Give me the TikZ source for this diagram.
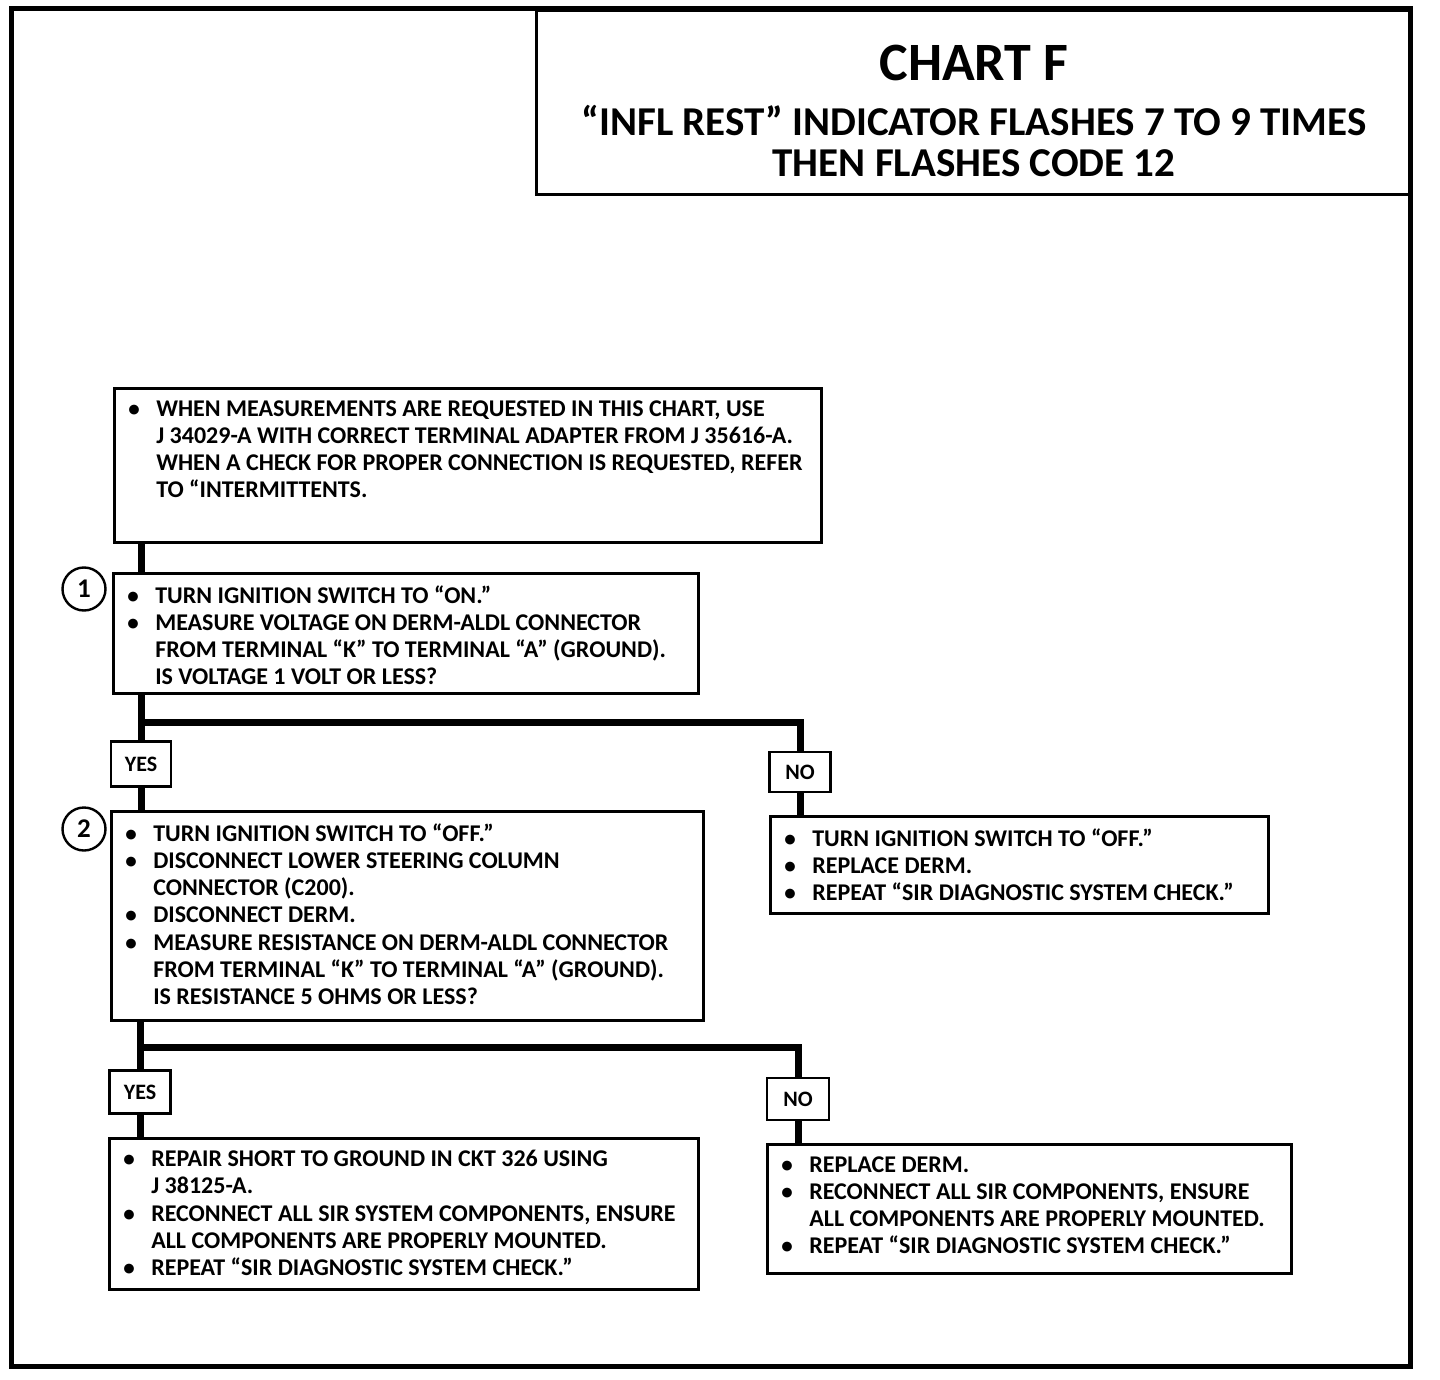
\documentclass[tikz,border=0pt]{standalone}
\usepackage{fontspec}
\setmainfont{Carlito}
\usetikzlibrary{positioning}

\newcommand{\itm}[1]{\mbox{\makebox[28pt][l]{\fontsize{23}{23}\selectfont\textbullet}#1}}
\newcommand{\cnt}[1]{\mbox{\hspace*{28pt}#1}}
\newcommand{\chk}[3]{\parbox[t][#2][t]{#1}{\raggedright\fontsize{24}{27.3}\selectfont #3}}

\begin{document}
\begin{tikzpicture}[x=1pt,y=-1pt,font=\bfseries,
  chkbox/.style={draw,line width=2.6pt,anchor=north west,inner xsep=14pt,inner ysep=12pt,align=left},
  ansbox/.style={draw,line width=2.6pt,inner sep=0pt,font=\bfseries\fontsize{22}{22}\selectfont},
  stepno/.style={draw,circle,line width=2.4pt,minimum size=43pt,inner sep=0pt,font=\bfseries\fontsize{27}{27}\selectfont},
  conn/.style={line width=7pt}]
\useasboundingbox (0,0) rectangle (1440,1380);
% frame and heading
\draw[line width=5pt] (11,9) rectangle (1410,1366);
\node[draw,line width=3pt,anchor=north west,minimum width=875pt,minimum height=184pt,align=center,
  font=\bfseries\fontsize{41}{41}\selectfont] (title) at (535,9)
  {\rule{0pt}{52pt}{\fontsize{54}{54}\selectfont CHART F}\\[14pt]
   “INFL REST” INDICATOR FLASHES 7 TO 9 TIMES\\
   THEN FLASHES CODE 12};
% boxes
\node[chkbox] (intro) at (113,387) {\chk{679pt}{130pt}{%
  \itm{WHEN MEASUREMENTS ARE REQUESTED IN THIS CHART, USE}\\
  \cnt{J 34029-A WITH CORRECT TERMINAL ADAPTER FROM J 35616-A.}\\
  \cnt{WHEN A CHECK FOR PROPER CONNECTION IS REQUESTED, REFER}\\
  \cnt{TO “INTERMITTENTS.}}};
\node[chkbox] (step1) at (112,572) {\chk{557pt}{96pt}{%
  \itm{TURN IGNITION SWITCH TO “ON.”}\\
  \itm{MEASURE VOLTAGE ON DERM-ALDL CONNECTOR}\\
  \cnt{FROM TERMINAL “K” TO TERMINAL “A” (GROUND).}\\
  \cnt{IS VOLTAGE 1 VOLT OR LESS?}}};
\node[chkbox] (step2) at (110,810) {\chk{564pt}{185pt}{%
  \itm{TURN IGNITION SWITCH TO “OFF.”}\\
  \itm{DISCONNECT LOWER STEERING COLUMN}\\
  \cnt{CONNECTOR (C200).}\\
  \itm{DISCONNECT DERM.}\\
  \itm{MEASURE RESISTANCE ON DERM-ALDL CONNECTOR}\\
  \cnt{FROM TERMINAL “K” TO TERMINAL “A” (GROUND).}\\
  \cnt{IS RESISTANCE 5 OHMS OR LESS?}}};
\node[chkbox] (nodrm) at (769,815) {\chk{470pt}{73pt}{%
  \itm{TURN IGNITION SWITCH TO “OFF.”}\\
  \itm{REPLACE DERM.}\\
  \itm{REPEAT “SIR DIAGNOSTIC SYSTEM CHECK.”}}};
\node[chkbox] (repair) at (108,1137) {\chk{561pt}{127pt}{%
  \itm{REPAIR SHORT TO GROUND IN CKT 326 USING}\\
  \cnt{J 38125-A.}\\
  \itm{RECONNECT ALL SIR SYSTEM COMPONENTS, ENSURE}\\
  \cnt{ALL COMPONENTS ARE PROPERLY MOUNTED.}\\
  \itm{REPEAT “SIR DIAGNOSTIC SYSTEM CHECK.”}}};
\node[chkbox] (replace) at (766,1143) {\chk{496pt}{105pt}{%
  \itm{REPLACE DERM.}\\
  \itm{RECONNECT ALL SIR COMPONENTS, ENSURE}\\
  \cnt{ALL COMPONENTS ARE PROPERLY MOUNTED.}\\
  \itm{REPEAT “SIR DIAGNOSTIC SYSTEM CHECK.”}}};
% step numbers
\node[stepno] (c1) at (84,589) {1};
\node[stepno] (c2) at (84,829) {2};
% answers
\node[ansbox,minimum width=60pt,minimum height=45pt] (yes1) at (141,764) {YES};
\node[ansbox,minimum width=61pt,minimum height=40pt] (no1) at (800,772) {NO};
\node[ansbox,minimum width=61pt,minimum height=43pt] (yes2) at (140,1092) {YES};
\node[ansbox,minimum width=62pt,minimum height=42pt] (no2) at (798,1099) {NO};
\coordinate (fork1) at (yes1 |- 0,722);
\coordinate (fork2) at (yes2 |- 0,1047);
% connectors
\draw[conn] (intro.south -| yes1) -- (step1.north -| yes1);
\draw[conn] (step1.south -| yes1) -- (yes1.north);
\draw[conn] (fork1) -| (no1.north);
\draw[conn] (yes1.south) -- (step2.north -| yes1);
\draw[conn] (no1.south) -- (nodrm.north -| no1);
\draw[conn] (step2.south -| yes2) -- (yes2.north);
\draw[conn] (fork2) -| (no2.north);
\draw[conn] (yes2.south) -- (repair.north -| yes2);
\draw[conn] (no2.south) -- (replace.north -| no2);
\end{tikzpicture}
\end{document}
